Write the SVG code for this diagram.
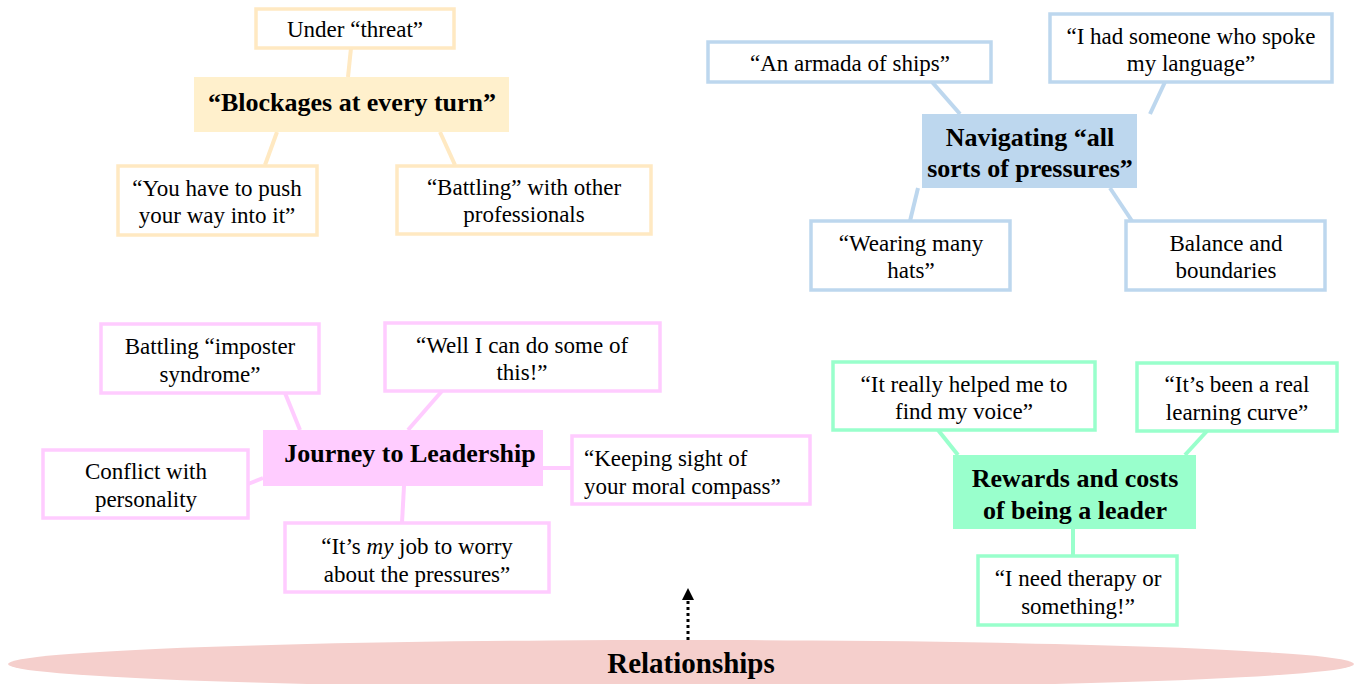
<svg xmlns="http://www.w3.org/2000/svg" width="1360" height="684" viewBox="0 0 1360 684">
  <style>
    text { font-family: "Liberation Serif", "Times New Roman", serif; fill: #000; text-anchor: middle; }
    .leaf { font-size: 23px; }
    .hub { font-size: 26px; font-weight: bold; }
    .box { fill: #fff; stroke-width: 3.5; }
    .y { stroke: #FFE9C2; } .yf { fill: #FFF0CC; }
    .b { stroke: #BDD7EE; } .bf { fill: #BDD7EE; }
    .p { stroke: #FFCCFF; } .pf { fill: #FFCCFF; }
    .g { stroke: #99FFCC; } .gf { fill: #99FFCC; }
    .link { fill: none; stroke-width: 4; }
  </style>
  <defs>
    <marker id="head" viewBox="0 0 10 10" refX="5" refY="5" markerWidth="4" markerHeight="4" orient="auto">
      <path d="M0,0 L10,5 L0,10 z" fill="#000"/>
    </marker>
  </defs>

  <!-- base layer -->
  <g id="relationships">
    <ellipse cx="681" cy="664" rx="673" ry="24" fill="#F5CFCC"/>
    <text class="hub" x="691" y="673" style="font-size:29px">Relationships</text>
  </g>

  <!-- connectors -->
  <g id="connectors">
    <g class="link y">
      <line x1="351" y1="48" x2="348" y2="77"/>
      <line x1="277" y1="132" x2="265" y2="165"/>
      <line x1="440" y1="132" x2="455" y2="165"/>
    </g>
    <g class="link b">
      <line x1="932" y1="82" x2="960" y2="114"/>
      <line x1="1165" y1="82" x2="1150" y2="114"/>
      <line x1="918" y1="188" x2="910" y2="221"/>
      <line x1="1110" y1="188" x2="1132" y2="221"/>
    </g>
    <g class="link p">
      <line x1="285" y1="393" x2="300" y2="430"/>
      <line x1="442" y1="391" x2="408" y2="430"/>
      <line x1="248" y1="484" x2="263" y2="478"/>
      <line x1="543" y1="468" x2="572" y2="468"/>
      <line x1="404" y1="486" x2="402" y2="523"/>
    </g>
    <g class="link g">
      <line x1="938" y1="430" x2="958" y2="455"/>
      <line x1="1207" y1="431" x2="1185" y2="455"/>
      <line x1="1073" y1="529" x2="1073" y2="555"/>
    </g>
    <line x1="688" y1="640" x2="688" y2="594" stroke="#000" stroke-width="3" stroke-dasharray="3 3" marker-end="url(#head)"/>
  </g>

  <!-- Blockages cluster -->
  <g id="blockages">
    <rect class="yf" x="194" y="77" width="315" height="55"/>
    <text class="hub" x="352" y="111">“Blockages at every turn”</text>
  </g>
  <g id="under-threat">
    <rect class="box y" x="256" y="9" width="198" height="39"/>
    <text class="leaf" x="355" y="37">Under “threat”</text>
  </g>
  <g id="push-your-way">
    <rect class="box y" x="118" y="166" width="199" height="69"/>
    <text class="leaf" x="217" y="196">“You have to push</text>
    <text class="leaf" x="217" y="223">your way into it”</text>
  </g>
  <g id="battling-professionals">
    <rect class="box y" x="397" y="166" width="254" height="68"/>
    <text class="leaf" x="524" y="195">“Battling” with other</text>
    <text class="leaf" x="524" y="222">professionals</text>
  </g>

  <!-- Navigating cluster -->
  <g id="navigating">
    <rect class="bf" x="922" y="114" width="215" height="74"/>
    <text class="hub" x="1030" y="146">Navigating “all</text>
    <text class="hub" x="1030" y="177">sorts of pressures”</text>
  </g>
  <g id="armada">
    <rect class="box b" x="708" y="42" width="283" height="40"/>
    <text class="leaf" x="850" y="71">“An armada of ships”</text>
  </g>
  <g id="spoke-my-language">
    <rect class="box b" x="1050" y="14" width="282" height="68"/>
    <text class="leaf" x="1191" y="44">“I had someone who spoke</text>
    <text class="leaf" x="1191" y="71">my language”</text>
  </g>
  <g id="many-hats">
    <rect class="box b" x="811" y="221" width="199" height="69"/>
    <text class="leaf" x="911" y="251">“Wearing many</text>
    <text class="leaf" x="911" y="278">hats”</text>
  </g>
  <g id="balance">
    <rect class="box b" x="1126" y="221" width="199" height="69"/>
    <text class="leaf" x="1226" y="251">Balance and</text>
    <text class="leaf" x="1226" y="278">boundaries</text>
  </g>

  <!-- Journey cluster -->
  <g id="journey">
    <rect class="pf" x="263" y="430" width="280" height="56"/>
    <text class="hub" x="410" y="462">Journey to Leadership</text>
  </g>
  <g id="imposter">
    <rect class="box p" x="101" y="324" width="218" height="69"/>
    <text class="leaf" x="210" y="354">Battling “imposter</text>
    <text class="leaf" x="210" y="382">syndrome”</text>
  </g>
  <g id="do-some-of-this">
    <rect class="box p" x="385" y="323" width="275" height="68"/>
    <text class="leaf" x="522" y="353">“Well I can do some of</text>
    <text class="leaf" x="522" y="380">this!”</text>
  </g>
  <g id="conflict">
    <rect class="box p" x="43" y="450" width="205" height="68"/>
    <text class="leaf" x="146" y="479">Conflict with</text>
    <text class="leaf" x="146" y="507">personality</text>
  </g>
  <g id="moral-compass">
    <rect class="box p" x="572" y="436" width="238" height="68"/>
    <text class="leaf" x="584" y="466" style="text-anchor:start">“Keeping sight of</text>
    <text class="leaf" x="584" y="494" style="text-anchor:start">your moral compass”</text>
  </g>
  <g id="my-job">
    <rect class="box p" x="285" y="523" width="264" height="69"/>
    <text class="leaf" x="417" y="554">“It’s <tspan font-style="italic">my</tspan> job to worry</text>
    <text class="leaf" x="417" y="582">about the pressures”</text>
  </g>

  <!-- Rewards cluster -->
  <g id="rewards">
    <rect class="gf" x="953" y="455" width="243" height="74"/>
    <text class="hub" x="1075" y="487">Rewards and costs</text>
    <text class="hub" x="1075" y="519">of being a leader</text>
  </g>
  <g id="find-my-voice">
    <rect class="box g" x="833" y="362" width="262" height="68"/>
    <text class="leaf" x="964" y="392">“It really helped me to</text>
    <text class="leaf" x="964" y="419">find my voice”</text>
  </g>
  <g id="learning-curve">
    <rect class="box g" x="1137" y="363" width="200" height="68"/>
    <text class="leaf" x="1237" y="392">“It’s been a real</text>
    <text class="leaf" x="1237" y="420">learning curve”</text>
  </g>
  <g id="therapy">
    <rect class="box g" x="978" y="556" width="199" height="69"/>
    <text class="leaf" x="1078" y="586">“I need therapy or</text>
    <text class="leaf" x="1078" y="614">something!”</text>
  </g>
</svg>
